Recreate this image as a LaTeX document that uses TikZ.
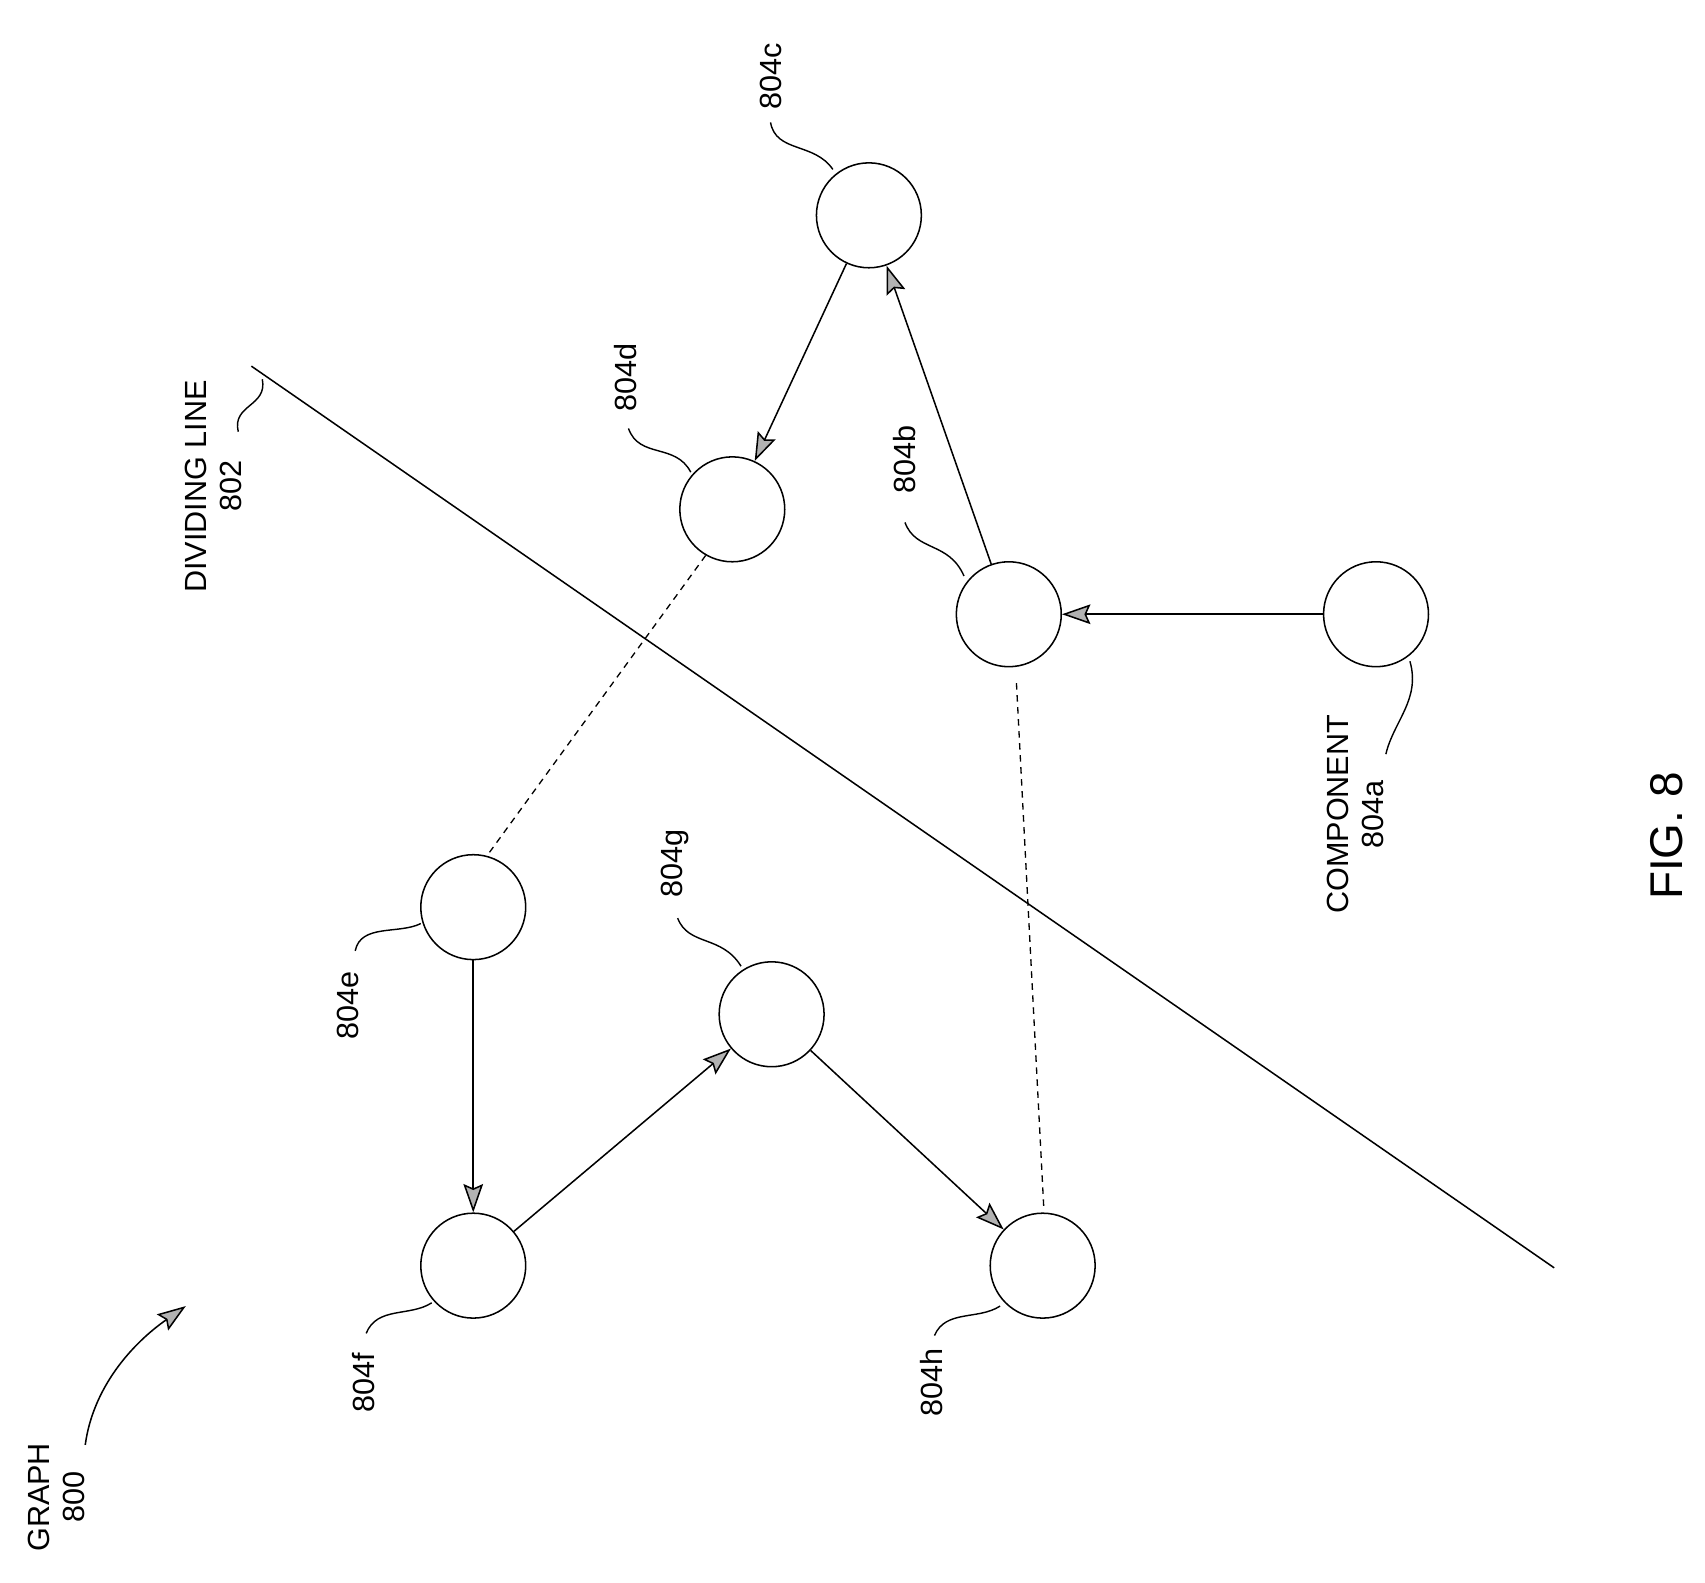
\documentclass[tikz,border=0pt]{standalone}
\usepackage{fontspec}
\setmainfont{Liberation Sans}
\usetikzlibrary{arrows.meta}
\begin{document}
\begin{tikzpicture}[x=1pt,y=-1pt,
  comp/.style={circle,draw,line width=1.4pt,minimum size=96pt,inner sep=0pt},
  edge/.style={line width=1.4pt,-{Stealth[length=26pt,width=18pt,fill=gray!60,inset=4pt]}},
  dsh/.style={line width=1.2pt,dash pattern=on 6pt off 5pt},
  lead/.style={line width=1.3pt},
  lab/.style={rotate=90,font=\fontsize{28}{32}\selectfont,align=center}]
\useasboundingbox (0,0) rectangle (1560,1448);
\node[comp] (c) at (795,197) {};
\node[comp] (d) at (670,466) {};
\node[comp] (b) at (923,562) {};
\node[comp] (a) at (1259,562) {};
\node[comp] (e) at (433,830) {};
\node[comp] (g) at (706,928) {};
\node[comp] (f) at (433,1158) {};
\node[comp] (h) at (954,1158) {};
\draw[edge] (a) -- (b);
\draw[edge] (b) -- (c);
\draw[edge] (c) -- (d);
\draw[edge] (e) -- (f);
\draw[edge] (f) -- (g);
\draw[edge] (g) -- (h);
\draw[dsh] (d.240) -- (e.75);
\coordinate (bb) at (930,625);
\coordinate (ht) at (955,1105);
\draw[dsh] (bb) -- (ht);
\coordinate (l1) at (230,335);
\coordinate (l2) at (1422,1160);
\draw[line width=1.4pt] (l1) -- (l2);
% labels
\node[lab] (tc) at (705,70) {804c};
\draw[lead] (705,112) .. controls (710,140) and (745,130) .. (762,155);
\node[lab] (td) at (572,345) {804d};
\draw[lead] (575,392) .. controls (585,420) and (618,405) .. (632,432);
\node[lab] (tb) at (828,420) {804b};
\draw[lead] (828,478) .. controls (838,505) and (868,495) .. (882,527);
\node[lab] (tg) at (618,790) {804g};
\draw[lead] (620,840) .. controls (630,866) and (660,855) .. (678,884);
\node[lab] (te) at (318,920) {804e};
\draw[lead] (325,870) .. controls (330,845) and (365,855) .. (385,845);
\node[lab] (tf) at (333,1265) {804f};
\draw[lead] (335,1220) .. controls (345,1195) and (375,1205) .. (395,1192);
\node[lab] (th) at (852,1265) {804h};
\draw[lead] (855,1222) .. controls (865,1198) and (895,1208) .. (915,1195);
\node[lab] (tdl) at (195,445) {DIVIDING LINE\\802};
\draw[lead] (218,395) .. controls (212,370) and (245,372) .. (240,347);
\node[lab] (ta) at (1240,745) {COMPONENT\\804a};
\draw[lead] (1268,690) .. controls (1275,660) and (1300,640) .. (1290,605);
\node[lab] (tgr) at (52,1370) {GRAPH\\800};
\draw[line width=1.4pt,-{Stealth[length=26pt,width=18pt,fill=gray!60,inset=4pt]}] (78,1322) .. controls (85,1270) and (120,1230) .. (170,1195);
\node[lab,font=\fontsize{42}{46}\selectfont] (fig) at (1525,765) {FIG. 8};
\end{tikzpicture}
\end{document}
